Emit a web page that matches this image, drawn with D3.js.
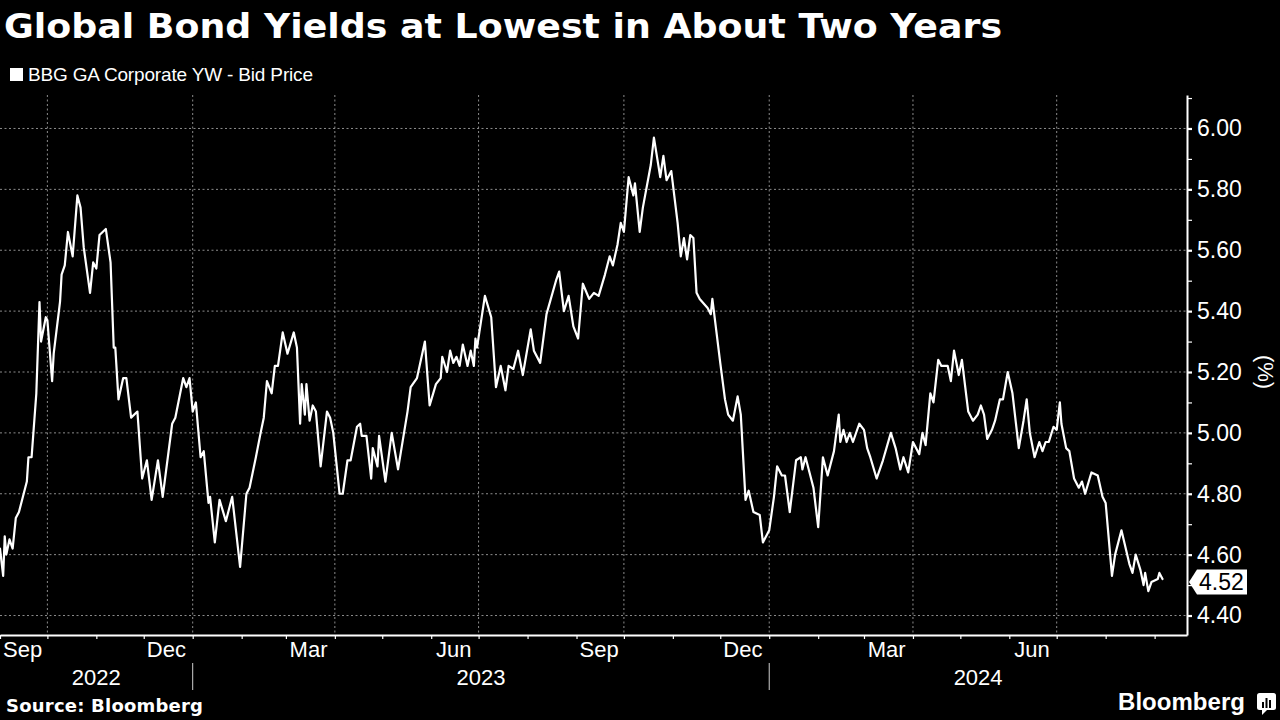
<!DOCTYPE html>
<html><head><meta charset="utf-8">
<script src="https://cdn.jsdelivr.net/npm/d3@7"></script>
<style>html,body{margin:0;padding:0;background:#000;} svg{display:block}</style>
</head><body>
<svg id="c" width="1280" height="720"></svg>
<script>
const titleText = "Global Bond Yields at Lowest in About Two Years";
const seriesName = "BBG GA Corporate YW - Bid Price";
const sourceText = "Source: Bloomberg";
const unitText = "(%)";
const yTicks = [4.40, 4.60, 4.80, 5.00, 5.20, 5.40, 5.60, 5.80, 6.00];
const yMinorTicks = [4.50, 4.70, 4.90, 5.10, 5.30, 5.50, 5.70, 5.90, 6.10];
const monthLabelDates = ["2022-09-15","2022-12-15","2023-03-15","2023-06-15","2023-09-15","2023-12-15","2024-03-15","2024-06-15"];
const yearLabels = ["2022","2023","2024"];
const dateDomain = ["2022-09-01","2024-09-21"];
const yDomain = [4.336, 6.11];

const dates = [
"2022-09-01","2022-09-03","2022-09-04","2022-09-05","2022-09-07","2022-09-09","2022-09-11","2022-09-13","2022-09-18","2022-09-19",
"2022-09-21","2022-09-24","2022-09-26","2022-09-27","2022-09-30","2022-10-01","2022-10-04","2022-10-05","2022-10-09","2022-10-10",
"2022-10-12","2022-10-14","2022-10-17","2022-10-20","2022-10-22","2022-10-24","2022-10-28","2022-10-30","2022-11-01","2022-11-03",
"2022-11-07","2022-11-10","2022-11-12","2022-11-13","2022-11-15","2022-11-18","2022-11-20","2022-11-23","2022-11-27","2022-11-30",
"2022-12-03","2022-12-06","2022-12-10","2022-12-13","2022-12-19","2022-12-21","2022-12-26","2022-12-28","2022-12-30","2023-01-01",
"2023-01-03","2023-01-06","2023-01-08","2023-01-11","2023-01-12","2023-01-15","2023-01-18","2023-01-22","2023-01-26","2023-01-31",
"2023-02-04","2023-02-06","2023-02-10","2023-02-13","2023-02-15","2023-02-17","2023-02-20","2023-02-22","2023-02-24","2023-02-27",
"2023-03-02","2023-03-06","2023-03-08","2023-03-10","2023-03-11","2023-03-13","2023-03-14","2023-03-16","2023-03-18","2023-03-20",
"2023-03-23","2023-03-27","2023-03-29","2023-03-31","2023-04-04","2023-04-06","2023-04-09","2023-04-11","2023-04-15","2023-04-17",
"2023-04-18","2023-04-21","2023-04-24","2023-04-25","2023-04-28","2023-04-29","2023-05-03","2023-05-07","2023-05-11","2023-05-17",
"2023-05-19","2023-05-23","2023-05-28","2023-05-31","2023-06-04","2023-06-07","2023-06-08","2023-06-11","2023-06-13","2023-06-15",
"2023-06-17","2023-06-19","2023-06-21","2023-06-24","2023-06-26","2023-06-28","2023-06-29","2023-06-30","2023-07-05","2023-07-09",
"2023-07-12","2023-07-15","2023-07-18","2023-07-20","2023-07-23","2023-07-26","2023-07-29","2023-08-03","2023-08-05","2023-08-09",
"2023-08-13","2023-08-19","2023-08-21","2023-08-24","2023-08-27","2023-08-30","2023-09-02","2023-09-05","2023-09-09","2023-09-12",
"2023-09-15","2023-09-19","2023-09-22","2023-09-24","2023-09-27","2023-09-29","2023-10-01","2023-10-04","2023-10-07","2023-10-08",
"2023-10-11","2023-10-13","2023-10-18","2023-10-20","2023-10-24","2023-10-26","2023-10-28","2023-10-31","2023-11-04","2023-11-06",
"2023-11-08","2023-11-10","2023-11-12","2023-11-14","2023-11-16","2023-11-18","2023-11-23","2023-11-25","2023-11-26","2023-12-01",
"2023-12-04","2023-12-06","2023-12-09","2023-12-12","2023-12-14","2023-12-17","2023-12-19","2023-12-22","2023-12-26","2023-12-28",
"2024-01-01","2024-01-04","2024-01-06","2024-01-09","2024-01-11","2024-01-14","2024-01-18","2024-01-21","2024-01-22","2024-01-24",
"2024-01-27","2024-01-29","2024-02-01","2024-02-04","2024-02-07","2024-02-11","2024-02-14","2024-02-15","2024-02-17","2024-02-19",
"2024-02-21","2024-02-23","2024-02-27","2024-03-01","2024-03-03","2024-03-05","2024-03-09","2024-03-13","2024-03-18","2024-03-21",
"2024-03-24","2024-03-26","2024-03-29","2024-04-01","2024-04-05","2024-04-07","2024-04-09","2024-04-12","2024-04-14","2024-04-17",
"2024-04-19","2024-04-23","2024-04-25","2024-04-27","2024-04-30","2024-05-02","2024-05-06","2024-05-09","2024-05-12","2024-05-14",
"2024-05-16","2024-05-18","2024-05-21","2024-05-23","2024-05-26","2024-05-28","2024-05-31","2024-06-03","2024-06-07","2024-06-10",
"2024-06-12","2024-06-14","2024-06-17","2024-06-20","2024-06-22","2024-06-24","2024-06-26","2024-06-29","2024-07-01","2024-07-03",
"2024-07-04","2024-07-07","2024-07-09","2024-07-12","2024-07-15","2024-07-17","2024-07-19","2024-07-23","2024-07-27","2024-07-30",
"2024-08-01","2024-08-05","2024-08-07","2024-08-11","2024-08-16","2024-08-18","2024-08-20","2024-08-23","2024-08-25","2024-08-26",
"2024-08-28","2024-08-30","2024-09-03","2024-09-04","2024-09-06"
];
const yields = [
4.62,4.53,4.66,4.60,4.65,4.62,4.72,4.74,4.84,4.92,
4.92,5.13,5.43,5.30,5.38,5.37,5.17,5.26,5.43,5.52,
5.55,5.66,5.58,5.78,5.74,5.61,5.46,5.56,5.54,5.65,
5.67,5.56,5.28,5.28,5.11,5.18,5.18,5.05,5.07,4.85,
4.91,4.78,4.91,4.79,5.03,5.05,5.18,5.15,5.18,5.07,
5.10,4.92,4.94,4.77,4.79,4.64,4.78,4.71,4.79,4.56,
4.80,4.82,4.92,5.00,5.05,5.17,5.13,5.22,5.22,5.33,
5.26,5.33,5.28,5.03,5.16,5.06,5.16,5.04,5.09,5.07,
4.89,5.07,5.05,5.00,4.80,4.80,4.91,4.91,5.02,5.03,
4.99,4.99,4.85,4.95,4.89,4.99,4.84,5.00,4.88,5.07,
5.15,5.18,5.30,5.09,5.16,5.18,5.25,5.20,5.27,5.23,
5.25,5.22,5.29,5.22,5.27,5.22,5.31,5.28,5.45,5.38,
5.15,5.22,5.14,5.22,5.21,5.27,5.19,5.34,5.27,5.23,
5.39,5.50,5.53,5.40,5.45,5.35,5.31,5.49,5.44,5.46,
5.45,5.52,5.58,5.55,5.62,5.69,5.66,5.84,5.78,5.82,
5.66,5.74,5.88,5.97,5.84,5.91,5.83,5.86,5.69,5.58,
5.64,5.57,5.65,5.64,5.46,5.44,5.41,5.39,5.44,5.23,
5.11,5.06,5.04,5.12,5.06,4.78,4.81,4.74,4.73,4.64,
4.68,4.79,4.89,4.86,4.86,4.74,4.91,4.92,4.88,4.92,
4.86,4.82,4.69,4.92,4.86,4.94,5.06,4.97,5.01,4.97,
5.00,4.97,5.03,5.01,4.95,4.92,4.85,4.91,5.00,4.95,
4.88,4.92,4.87,4.97,4.93,5.00,4.96,5.13,5.10,5.24,
5.22,5.22,5.17,5.27,5.19,5.24,5.07,5.04,5.06,5.09,
5.06,4.98,5.01,5.04,5.11,5.11,5.20,5.13,4.95,5.04,
5.11,5.00,4.92,4.97,4.94,4.97,4.97,5.02,5.01,5.10,
5.03,4.95,4.94,4.85,4.82,4.84,4.80,4.87,4.86,4.79,
4.77,4.53,4.60,4.68,4.57,4.54,4.60,4.55,4.50,4.54,
4.48,4.51,4.52,4.54,4.52
];

const parse = d3.utcParse("%Y-%m-%d");
const data = dates.map((d, i) => ({date: parse(d), v: yields[i]}));

const W = 1280, H = 720;
const plot = {left: 0, right: 1187, top: 95, bottom: 635};
const AX_FONT = "'Liberation Sans', Arial, sans-serif";
const BOLD_FONT = "'DejaVu Sans', sans-serif";
const gridColor = "#8c8c8c";

const svg = d3.select("#c");
svg.append("rect").attr("width", W).attr("height", H).attr("fill", "#000");

const x = d3.scaleUtc().domain([parse(dateDomain[0]), d3.utcHour.offset(parse(dateDomain[1]), 12)]).range([plot.left, plot.right]);
const y = d3.scaleLinear().domain(yDomain).range([plot.bottom, plot.top]);

// Title
svg.append("text").attr("x", 4).attr("y", 38)
  .attr("font-family", BOLD_FONT).attr("font-weight", "bold").attr("font-size", 34)
  .attr("fill", "#fff").attr("textLength", 998).attr("lengthAdjust", "spacingAndGlyphs")
  .text(titleText);

// Legend
svg.append("rect").attr("x", 10).attr("y", 68).attr("width", 13).attr("height", 13).attr("fill", "#fff");
svg.append("text").attr("x", 28).attr("y", 81)
  .attr("font-family", AX_FONT).attr("font-size", 19).attr("fill", "#fff")
  .attr("textLength", 285).attr("lengthAdjust", "spacing")
  .text(seriesName);

// Gridlines
const quarterStarts = d3.utcMonths(x.domain()[0], x.domain()[1]).filter(d => d.getUTCMonth() % 3 === 0);
svg.append("g").selectAll("line").data(yTicks).join("line")
  .attr("x1", plot.left).attr("x2", plot.right)
  .attr("y1", d => y(d)).attr("y2", d => y(d))
  .attr("stroke", gridColor).attr("stroke-width", 1).attr("stroke-dasharray", "2,2.5");
svg.append("g").selectAll("line").data(quarterStarts).join("line")
  .attr("x1", d => x(d)).attr("x2", d => x(d))
  .attr("y1", plot.top).attr("y2", plot.bottom)
  .attr("stroke", gridColor).attr("stroke-width", 1).attr("stroke-dasharray", "2,2.5");

// X axis: line + monthly ticks
const monthStarts = d3.utcMonths(x.domain()[0], x.domain()[1]);
const xAxisG = svg.append("g").attr("transform", `translate(0,${plot.bottom})`)
  .call(d3.axisBottom(x).tickValues(monthStarts).tickSize(4).tickSizeOuter(0).tickFormat(""));
xAxisG.select(".domain").attr("stroke", "#fff").attr("stroke-width", 2);
xAxisG.selectAll(".tick line").attr("stroke", "#fff").attr("stroke-width", 1.2);

// Month labels
const monthLabelG = svg.append("g").attr("transform", `translate(0,${plot.bottom})`)
  .call(d3.axisBottom(x).tickValues(monthLabelDates.map(parse)).tickSize(0).tickPadding(6.5).tickFormat(d3.utcFormat("%b")));
monthLabelG.select(".domain").remove();
monthLabelG.selectAll("text").attr("fill", "#fff").attr("font-family", AX_FONT).attr("font-size", 22);

// Year labels and separators
const yearStarts = d3.utcYears(x.domain()[0], x.domain()[1]);
const yearBounds = [x.domain()[0], ...yearStarts, x.domain()[1]];
svg.append("g").selectAll("text").data(yearLabels).join("text")
  .attr("x", (d, i) => (x(yearBounds[i]) + x(yearBounds[i + 1])) / 2)
  .attr("y", 685).attr("text-anchor", "middle")
  .attr("font-family", AX_FONT).attr("font-size", 22).attr("fill", "#fff")
  .text(d => d);
svg.append("g").selectAll("line").data(yearStarts).join("line")
  .attr("x1", d => x(d)).attr("x2", d => x(d)).attr("y1", 663).attr("y2", 690)
  .attr("stroke", "#cfcfcf").attr("stroke-width", 1);

// Y axis
const yAxisG = svg.append("g").attr("transform", `translate(${plot.right},0)`)
  .call(d3.axisRight(y).tickValues(yTicks).tickSize(5).tickSizeOuter(0).tickPadding(5).tickFormat(d3.format(".2f")));
yAxisG.select(".domain").attr("stroke", "#fff").attr("stroke-width", 2);
yAxisG.selectAll(".tick line").attr("stroke", "#fff").attr("stroke-width", 2.2);
yAxisG.selectAll(".tick text").attr("fill", "#fff").attr("font-family", AX_FONT).attr("font-size", 23);
const yMinorG = svg.append("g").attr("transform", `translate(${plot.right},0)`)
  .call(d3.axisRight(y).tickValues(yMinorTicks).tickSize(5).tickSizeOuter(0).tickFormat(""));
yMinorG.select(".domain").remove();
yMinorG.selectAll(".tick line").attr("stroke", "#fff").attr("stroke-width", 1.2);

// Unit label
svg.append("text").attr("transform", `translate(1258,${y(5.2)}) rotate(90)`)
  .attr("text-anchor", "middle").attr("font-family", AX_FONT).attr("font-size", 22).attr("fill", "#fff")
  .text(unitText);

// Line
const line = d3.line().x(d => x(d.date)).y(d => y(d.v));
svg.append("path").datum(data).attr("d", line)
  .attr("fill", "none").attr("stroke", "#fff").attr("stroke-width", 2.2)
  .attr("stroke-linejoin", "round").attr("stroke-linecap", "round");

// Last value label
const last = data[data.length - 1];
const ly = y(last.v) + 3;
const lx = plot.right + 2;
svg.append("path")
  .attr("d", `M${lx},${ly} L${lx + 8},${ly - 12.5} L${lx + 58},${ly - 12.5} L${lx + 58},${ly + 12.5} L${lx + 8},${ly + 12.5} Z`)
  .attr("fill", "#fff");
svg.append("text").attr("x", lx + 10).attr("y", ly).attr("dy", "0.35em")
  .attr("font-family", AX_FONT).attr("font-size", 23).attr("fill", "#000")
  .text(d3.format(".2f")(last.v));

// Source
svg.append("text").attr("x", 6).attr("y", 712)
  .attr("font-family", BOLD_FONT).attr("font-weight", "bold").attr("font-size", 18).attr("fill", "#fff")
  .attr("textLength", 197).attr("lengthAdjust", "spacing")
  .text(sourceText);

// Bloomberg logo
svg.append("text").attr("x", 1118).attr("y", 710)
  .attr("font-family", AX_FONT).attr("font-weight", "bold").attr("font-size", 24).attr("fill", "#fff")
  .attr("textLength", 127).attr("lengthAdjust", "spacing")
  .text("Bloomberg");
const logo = svg.append("g").attr("transform", "translate(1257,693)");
logo.append("rect").attr("width", 19).attr("height", 17).attr("rx", 2.5).attr("fill", "#fff");
logo.append("path").attr("d", "M5,16 L5,22 L11,16 Z").attr("fill", "#fff");
[[5, 9, 6], [8.5, 5, 10], [12, 7, 8]].forEach(([bx, by, bh]) => {
  logo.append("rect").attr("x", bx).attr("y", by).attr("width", 2).attr("height", bh).attr("fill", "#000");
});
</script>
</body></html>
